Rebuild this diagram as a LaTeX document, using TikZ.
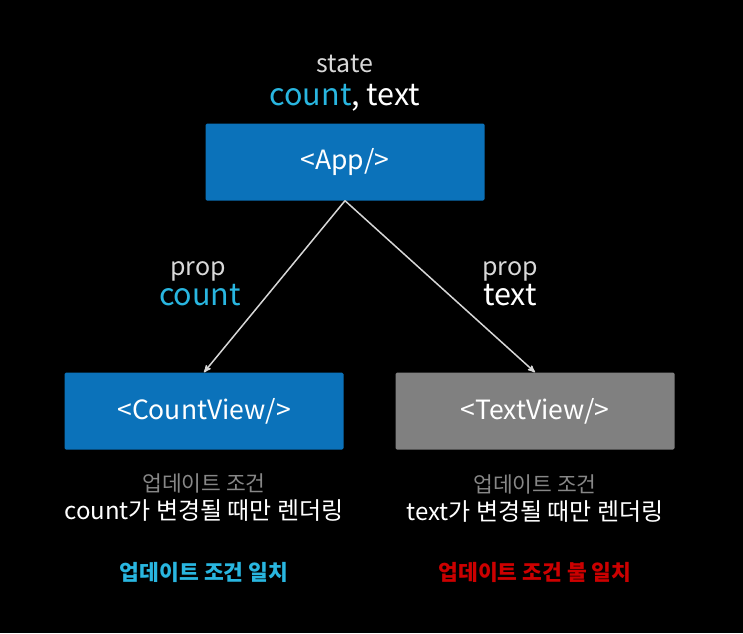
\documentclass[tikz,border=0pt]{standalone}
\usepackage{fontspec}
\setmainfont{Noto Sans CJK KR}
\usepackage{tikz}
\usetikzlibrary{arrows,positioning}

\definecolor{appblue}{RGB}{11,114,186}
\definecolor{viewgray}{RGB}{128,128,128}
\definecolor{propcyan}{RGB}{41,182,224}
\definecolor{condgray}{RGB}{135,135,135}
\definecolor{failred}{RGB}{204,0,0}
\definecolor{edgegray}{RGB}{215,215,215}

\begin{document}
\begin{tikzpicture}[x=1pt,y=-1pt,>=stealth',
  comp/.style={rectangle,rounded corners=1.5pt,minimum width=279pt,minimum height=77pt,
    text=white,font=\fontsize{26.5}{30}\selectfont},
  small/.style={anchor=base,text=white!85!black,font=\fontsize{25}{28}\selectfont,inner sep=0pt},
  big/.style={anchor=base,text=white,font=\fontsize{30.5}{34}\selectfont,inner sep=0pt},
  cond/.style={text=condgray,font=\fontsize{21.5}{24}\selectfont,inner sep=0pt},
  rule/.style={text=white,font=\fontsize{24}{27}\selectfont,inner sep=0pt},
  verdict/.style={font=\bfseries\fontsize{21.5}{24}\selectfont,inner sep=0pt}]

\fill[black] (0,0) rectangle (743,633);
\useasboundingbox (0,0) rectangle (743,633);

\node[comp, fill=appblue] (App) at (345,162) {<App/>};
\node[comp, fill=appblue] (CountView) at (204,411) {<CountView/>};
\node[comp, fill=viewgray] (TextView) at (535,411) {<TextView/>};

% state of App
\node[big] (AppState) at (345,105) {\textcolor{propcyan}{count}, text};
\node[small] (AppStateLabel) at (345,72) {state};

% props passed down
\node[big, text=propcyan] (CountProp) at (200,305) {count};
\node[small] (CountPropLabel) at (198,275) {prop};
\node[big] (TextProp) at (510,305) {text};
\node[small] (TextPropLabel) at (510,275) {prop};

\node[cond] (CountCond) at (204,483) {업데이트 조건};
\node[rule] (CountRule) at (204,511) {count가 변경될 때만 렌더링};
\node[cond] (TextCond) at (535,484) {업데이트 조건};
\node[rule] (TextRule) at (535,512) {text가 변경될 때만 렌더링};

\node[verdict, text=propcyan] (CountMatch) at (204,572) {업데이트 조건 일치};
\node[verdict, text=failred] (TextMatch) at (535,572) {업데이트 조건 불 일치};

\path[every edge/.append style={->,draw=edgegray,line width=1.5pt}]
  (App.south) edge (CountView.north)
  (App.south) edge (TextView.north)
;
\end{tikzpicture}
\end{document}
